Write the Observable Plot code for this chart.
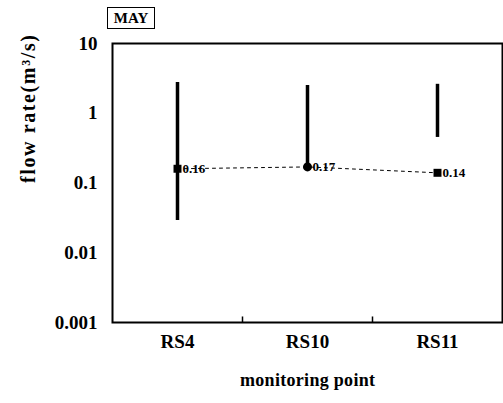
<!DOCTYPE html>
<html>
<head>
<meta charset="utf-8">
<script src="https://cdn.jsdelivr.net/npm/d3@7"></script>
<script src="https://cdn.jsdelivr.net/npm/@observablehq/plot@0.6"></script>
<style>
  html, body { margin: 0; padding: 0; background: #fff; }
  #wrap { position: relative; width: 503px; height: 403px; }
  #may { position: absolute; left: 107px; top: 7px; width: 46px; height: 20px;
         border: 1.5px solid #000; font: bold 15px "Liberation Serif", serif;
         text-align: center; line-height: 21px; }
</style>
</head>
<body>
<div id="wrap"><div id="may">MAY</div></div>
<script>
const sites = ["RS4", "RS10", "RS11"];
const means = [0.16, 0.17, 0.14];
const mins = [0.029, 0.17, 0.45];
const maxs = [2.76, 2.5, 2.6];
const meanLabels = ["0.16", "0.17", "0.14"];
const yTicks = [10, 1, 0.1, 0.01, 0.001];
const yTickLabels = ["10", "1", "0.1", "0.01", "0.001"];
const boundaryTicks = ["RS10", "RS11"];
const xTitle = "monitoring point";
const yTitle = "flow rate(m³/s)";

const data = sites.map((s, i) => ({site: s, mean: means[i], lo: mins[i], hi: maxs[i], label: meanLabels[i], circle: s === "RS10"}));

const chart = Plot.plot({
  width: 503,
  height: 403,
  marginLeft: 112,
  marginRight: 1,
  marginTop: 43,
  marginBottom: 81,
  style: {fontFamily: "'Liberation Serif', serif", fontWeight: "bold", fontSize: "19px", color: "#000", background: "#fff"},
  x: {type: "point", domain: sites, padding: 0.5, label: null, tickSize: 0, tickPadding: 12},
  y: {type: "log", domain: [0.001, 10], ticks: yTicks, tickFormat: d => yTickLabels[yTicks.indexOf(d)], tickSize: 0, tickPadding: 15, label: null},
  marks: [
    Plot.frame({stroke: "#000", strokeWidth: 2}),
    Plot.ruleX(boundaryTicks, {x: d => d, dx: -65, y1: 0.001, y2: 0.0012, stroke: "#000", strokeWidth: 1.5}),
    Plot.line(data, {x: "site", y: "mean", stroke: "#000", strokeWidth: 1, strokeDasharray: "3,4"}),
    Plot.ruleX(data, {x: "site", y1: "lo", y2: "hi", stroke: "#000", strokeWidth: 3.5}),
    Plot.dot(data.filter(d => !d.circle), {x: "site", y: "mean", symbol: "square", r: 4.5, fill: "#000"}),
    Plot.dot(data.filter(d => d.circle), {x: "site", y: "mean", symbol: "circle", r: 4.5, fill: "#000"}),
    Plot.text(data, {x: "site", y: "mean", text: "label", dx: 5, textAnchor: "start", fontSize: 13, fontWeight: "bold", fill: "#000"}),
    Plot.text([xTitle], {text: d => d, frameAnchor: "bottom", dy: 58, lineAnchor: "middle", fontSize: 18, fontWeight: "bold", fill: "#000", className: "xtitle"}),
    Plot.text([yTitle], {text: d => d, frameAnchor: "left", dx: -84, rotate: -90, lineAnchor: "middle", fontSize: 20, fontWeight: "bold", fill: "#000", className: "ytitle"})
  ]
});
document.getElementById("wrap").appendChild(chart);
d3.select(chart).selectAll(".xtitle text").attr("textLength", 135);
d3.select(chart).selectAll(".ytitle text").attr("textLength", 148);
</script>
</body>
</html>
